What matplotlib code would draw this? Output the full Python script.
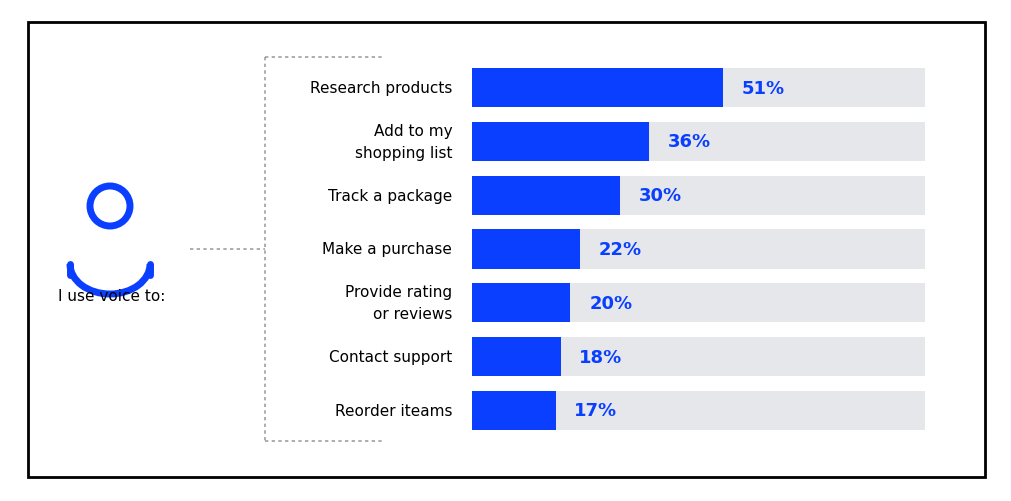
import matplotlib.pyplot as plt
from matplotlib.patches import Rectangle, Circle, Arc

# Data -------------------------------------------------------------------------
categories = ["Research products", "Add to my\nshopping list", "Track a package",
              "Make a purchase", "Provide rating\nor reviews", "Contact support",
              "Reorder iteams"]
values = [51, 36, 30, 22, 20, 18, 17]

BLUE = "#0a3fff"
TRACK = "#e5e7eb"
W, H = 1012, 502

fig = plt.figure(figsize=(W / 100, H / 100), dpi=100)

# Overlay axes in pixel coordinates for decorations -----------------------------
deco = fig.add_axes([0, 0, 1, 1])
deco.set_xlim(0, W)
deco.set_ylim(H, 0)
deco.axis("off")
deco.add_patch(Rectangle((28, 23), 957, 455, fill=False, edgecolor="black", lw=2))
deco.add_patch(Circle((110, 207), 20, fill=False, edgecolor=BLUE, lw=5))
deco.add_patch(Arc((110, 265), 80, 60, theta1=0, theta2=180, edgecolor=BLUE, lw=5))
deco.plot([70, 70], [265, 276], color=BLUE, lw=5, solid_capstyle="round")
deco.plot([150, 150], [265, 276], color=BLUE, lw=5, solid_capstyle="round")
deco.text(112, 297, "I use voice to:", ha="center", va="center", fontsize=11)
dash = dict(color="#a0a0a0", lw=1.2, ls=(0, (2, 2)))
deco.plot([190, 265], [250, 250], **dash)
deco.plot([265, 265], [58, 442], **dash)
deco.plot([265, 382], [58, 58], **dash)
deco.plot([265, 382], [442, 442], **dash)

# Bar axes -------------------------------------------------------------------
ax = fig.add_axes([472 / W, 1 - 442 / H, (925 - 472) / W, (442 - 58) / H])
n = len(categories)
ypos = list(range(n))
ax.barh(ypos, [100] * n, height=0.727, color=TRACK, left=0)
ax.barh(ypos, values, height=0.727, color=BLUE)
for y, v, c in zip(ypos, values, categories):
    ax.text(v + 3.8, y, f"{v}%", va="center", ha="left", color=BLUE,
            fontsize=13, fontweight="bold")
    ax.text(-4, y, c, va="center", ha="right", fontsize=11, linespacing=1.6)
ax.set_xlim(0, 92)
ax.set_ylim(n - 0.5 + 0.0, -0.5 - 0.0)
ax.set_ylim(6.5 + 0.07, -0.5 - 0.07)
ax.axis("off")

fig.savefig("out.png", dpi=100)
